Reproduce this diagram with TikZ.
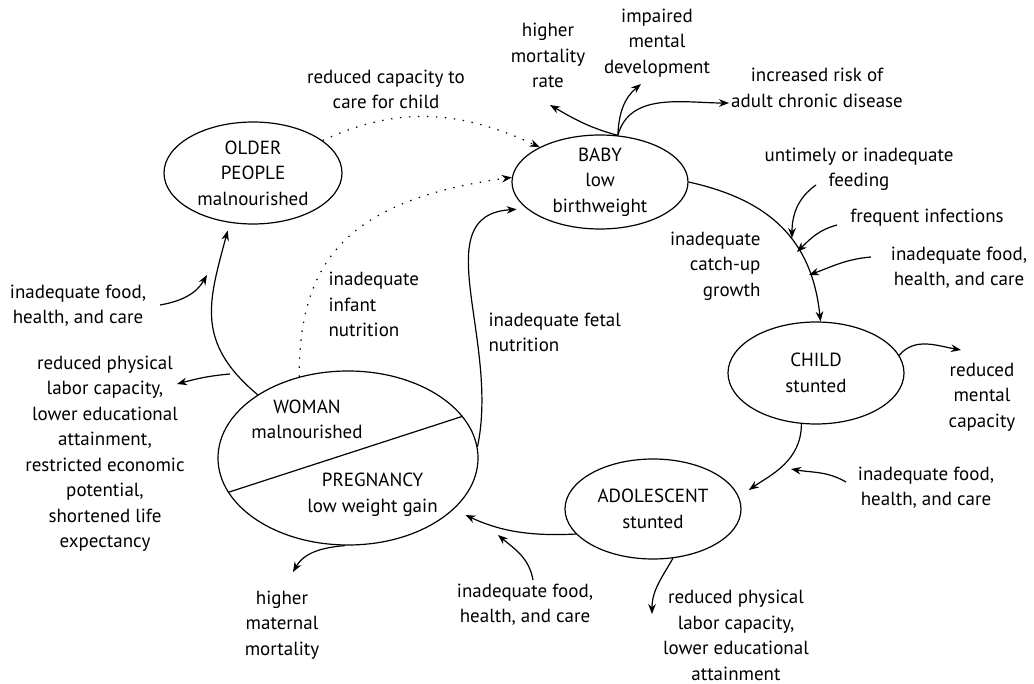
\documentclass[tikz,border=0pt]{standalone}
\usepackage{fontspec}
\setmainfont{PT Sans}
\usetikzlibrary{arrows.meta}
\usetikzlibrary{shapes.geometric}

\begin{document}
\begin{tikzpicture}[x=0.5pt,y=-0.5pt,line width=0.6pt,
  stage/.style={draw, ellipse, inner sep=0pt},
  note/.style={align=center, inner sep=0pt, font=\fontsize{9.5}{12.75}\selectfont},
  arr/.style={-{Stealth[length=5pt,width=3.8pt]}},
  dots/.style={dash pattern=on 0.7pt off 3.8pt}]

\useasboundingbox (0,0) rectangle (1034,684);

% Stages of the cycle
\node[stage, minimum width=89pt, minimum height=51pt, label={[note]center:OLDER\\PEOPLE\\malnourished}] (older) at (253,173) {};
\node[stage, minimum width=88pt, minimum height=47pt, label={[note]center:BABY\\low\\birthweight}] (baby) at (600,182) {};
\node[stage, minimum width=88pt, minimum height=51pt, label={[note]center:CHILD\\stunted}] (child) at (816,373) {};
\node[stage, minimum width=88pt, minimum height=50pt, label={[note]center:ADOLESCENT\\stunted}] (adol) at (653,509) {};
\node[stage, minimum width=130pt, minimum height=87pt] (woman) at (348,458) {};
\draw (woman.196) -- (woman.20);
\node[note] (womantxt) at (307,419.5) {WOMAN\\malnourished};
\node[note] (pregtxt) at (372.5,494.5) {PREGNANCY\\low weight gain};

% Texts round the cycle
\node[note] (capacity) at (386,89.5) {reduced capacity to\\care for child};
\node[note] (mortality) at (548,55.7) {higher\\mortality\\rate};
\node[note] (mental) at (657,43) {impaired\\mental\\development};
\node[note] (chronic) at (817,88) {increased risk of\\adult chronic disease};
\node[note] (feeding) at (859,169.5) {untimely or inadequate\\feeding};
\node[note] (infections) at (927,218) {frequent infections};
\node[note] (foodchild) at (959,267.5) {inadequate food,\\health, and care};
\node[note, align=right, anchor=east] (catchup) at (761,266) {inadequate\\catch-up\\growth};
\node[note, align=left, anchor=west] (infant) at (328,304.5) {inadequate\\infant\\nutrition};
\node[note, align=left, anchor=west] (fetal) at (488,332.5) {inadequate fetal\\nutrition};
\node[note] (mentalcap) at (982,397) {reduced\\mental\\capacity};
\node[note] (foodadol) at (926,487.5) {inadequate food,\\health, and care};
\node[note] (labor) at (736,635.5) {reduced physical\\labor capacity,\\lower educational\\attainment};
\node[note] (foodpreg) at (525,604.5) {inadequate food,\\health, and care};
\node[note] (maternal) at (282,625) {higher\\maternal\\mortality};
\node[note] (econ) at (105,453.5) {reduced physical\\labor capacity,\\lower educational\\attainment,\\restricted economic\\potential,\\shortened life\\expectancy};
\node[note] (foodolder) at (78,305.5) {inadequate food,\\health, and care};

% Free ends of the small arrows
\coordinate (mortip) at (550,105);
\coordinate (mentip) at (641,84);
\coordinate (chrtip) at (729,103);
\coordinate (feedst) at (816,185);
\coordinate (feedtip) at (792,238);
\coordinate (infst) at (837,225);
\coordinate (inftip) at (797,252);
\coordinate (fcst) at (871,257);
\coordinate (fctip) at (809,275);
\coordinate (mcaptip) at (961,350);
\coordinate (fast) at (846,482);
\coordinate (fatip) at (791,469);
\coordinate (fpst) at (533,580);
\coordinate (fptip) at (498,535);
\coordinate (labtip) at (652,614);
\coordinate (mattip) at (293,572);
\coordinate (econst) at (230,374);
\coordinate (econtip) at (177,384);
\coordinate (fost) at (160,305);
\coordinate (fotip) at (207,275);

% Main cycle
\draw[arr] (baby.east) .. controls (770,200) and (812,240) .. (child.85);
\draw[arr, shorten >=6pt] (child.254) to[out=-90,in=35] (adol.8);
\draw[arr, shorten >=6.5pt] (adol.198) to[out=183,in=-25] (woman.-26);
\draw[arr, shorten >=5pt] (woman.5) .. controls (500,340) and (425,215) .. (baby.200);
\draw[arr, shorten >=4pt] (woman.145) to[out=140,in=255,looseness=1.2] (older.245);
\draw[arr, dots] (older.25) to[out=25,in=155] (baby.150);
\draw[arr, dots] (woman.121) .. controls (299,260) and (348,200) .. (baby.177);

% Outcomes and causes
\draw[arr] (baby.69) to[out=165,in=-30] (mortip);
\draw[arr] (baby.69) to[out=88,in=-140] (mentip);
\draw[arr] (baby.69) to[out=75,in=180] (chrtip);
\draw[arr] (feedst) to[out=215,in=90] (feedtip);
\draw[arr] (infst) to[out=195,in=45] (inftip);
\draw[arr] (fcst) to[out=185,in=20] (fctip);
\draw[arr] (child.12) to[out=50,in=170] (mcaptip);
\draw[arr] (fast) to[out=150,in=-10] (fatip);
\draw[arr] (fpst) to[out=100,in=-40] (fptip);
\draw[arr] (adol.292) to[out=240,in=90] (labtip);
\draw[arr] (woman.268) to[out=185,in=60] (mattip);
\draw[arr] (econst) to[out=185,in=15] (econtip);
\draw[arr] (fost) to[out=10,in=240] (fotip);

\end{tikzpicture}
\end{document}
